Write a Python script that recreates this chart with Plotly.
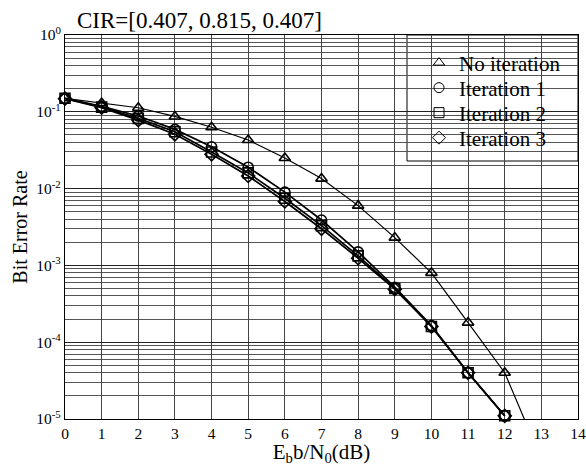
import plotly.graph_objects as go

# ---- data ----
snr_db = [0, 1, 2, 3, 4, 5, 6, 7, 8, 9, 10, 11, 12, 13]
ber_no_iter = [0.15, 0.13, 0.113, 0.087, 0.063, 0.043, 0.025, 0.0135, 0.006, 0.0023, 0.0008, 0.00018, 0.00004, 0.000003]
ber_iter1 = [0.15, 0.118, 0.088, 0.059, 0.035, 0.019, 0.009, 0.0039, 0.0015, 0.00052, 0.000165, 0.00004, 0.000011]
ber_iter2 = [0.15, 0.115, 0.082, 0.055, 0.030, 0.016, 0.0075, 0.0033, 0.00133, 0.0005, 0.00016, 0.00004, 0.000011]
ber_iter3 = [0.148, 0.113, 0.078, 0.051, 0.028, 0.0146, 0.0068, 0.0030, 0.00124, 0.00049, 0.00016, 0.00004, 0.000011]

series_names = ["No iteration", "Iteration 1", "Iteration 2", "Iteration 3"]
series_values = [ber_no_iter, ber_iter1, ber_iter2, ber_iter3]
series_symbols = ["triangle-up-open", "circle-open", "square-open", "diamond-open"]
series_widths = [1.2, 1.7, 1.7, 1.7]

y_tick_exponents = [-5, -4, -3, -2, -1, 0]
y_tick_labels = ["10<sup>-5</sup>", "10<sup>-4</sup>", "10<sup>-3</sup>", "10<sup>-2</sup>", "10<sup>-1</sup>", "10<sup>0</sup>"]
x_ticks = list(range(0, 15))

title_text = "CIR=[0.407, 0.815, 0.407]"
x_title = "E<sub>b</sub>b/N<sub>0</sub>(dB)"
y_title = "Bit Error Rate"

FONT = "Liberation Serif, Times New Roman, serif"

W, H = 586, 466
ML, MR, MT, MB = 65, 8, 35, 47
PW, PH = W - ML - MR, H - MT - MB

fig = go.Figure()

for name, vals, sym, w in zip(series_names, series_values, series_symbols, series_widths):
    fig.add_trace(go.Scatter(
        x=snr_db[:len(vals)], y=vals, mode="lines+markers",
        line=dict(color="black", width=w),
        marker=dict(symbol=sym, size=10, color="black", line=dict(color="black", width=1.6)),
        showlegend=False, cliponaxis=(name == "No iteration"),
    ))

# legend entries (markers only, as in the reference), one small legend per entry
legend_ids = ["legend", "legend2", "legend3", "legend4"]
for name, sym, lid in zip(series_names, series_symbols, legend_ids):
    fig.add_trace(go.Scatter(
        x=[None], y=[None], mode="markers", name=name, legend=lid,
        marker=dict(symbol=sym, size=10, color="black", line=dict(color="black", width=1)),
    ))

minor_vals = [m * 10 ** e for e in y_tick_exponents[:-1] for m in range(2, 10)]

# legend frame (box), drawn between grid and traces
box_left_px, box_bottom_px = 407, 126
fig.add_shape(type="rect", xref="paper", yref="paper",
              x0=(box_left_px - ML) / PW, x1=1, y0=1 - box_bottom_px / PH, y1=1,
              fillcolor="white", line=dict(color="black", width=1), layer="between")

legend_style = dict(xanchor="left", yanchor="middle", bgcolor="rgba(0,0,0,0)", borderwidth=0,
                    font=dict(family=FONT, size=21, color="black"))
legend_layout = {}
for i, lid in enumerate(legend_ids):
    center_px = 28 + 25 * i
    legend_layout[lid] = dict(x=(419 - ML) / PW, y=1 - center_px / PH, **legend_style)

fig.update_layout(
    width=W, height=H,
    margin=dict(l=ML, r=MR, t=MT, b=MB),
    paper_bgcolor="white", plot_bgcolor="white",
    font=dict(family=FONT, color="black", size=15),
    title=dict(text=title_text, x=77 / W, xanchor="left", xref="container",
               y=1 - 20 / H, yanchor="middle", yref="container",
               font=dict(family=FONT, size=23, color="black")),
    xaxis=dict(
        range=[0, 14], tickvals=x_ticks, ticks="", showline=True, mirror=True,
        linecolor="black", linewidth=1.2, showgrid=True, gridcolor="#444", gridwidth=1,
        zeroline=False, tickfont=dict(family=FONT, size=15.5), ticklabeloverflow="allow",
        automargin=False,
        title=dict(text=x_title, font=dict(family=FONT, size=21), standoff=8),
    ),
    yaxis=dict(
        type="log", range=[-5, 0],
        tickvals=[10 ** e for e in y_tick_exponents], ticktext=y_tick_labels,
        ticks="", showline=True, mirror=True, linecolor="black", linewidth=1.2,
        showgrid=True, gridcolor="#222", gridwidth=1, zeroline=False,
        minor=dict(tickvals=minor_vals, showgrid=True, gridcolor="#555", gridwidth=1, ticks=""),
        tickfont=dict(family=FONT, size=15.5), automargin=False,
        title=dict(text=y_title, font=dict(family=FONT, size=20), standoff=3),
    ),
    **legend_layout,
)

# remove the default page margin so the figure fills the window exactly
fig.write_html("out.html", config={"displayModeBar": False},
               post_script="document.body.style.margin='0px';")
